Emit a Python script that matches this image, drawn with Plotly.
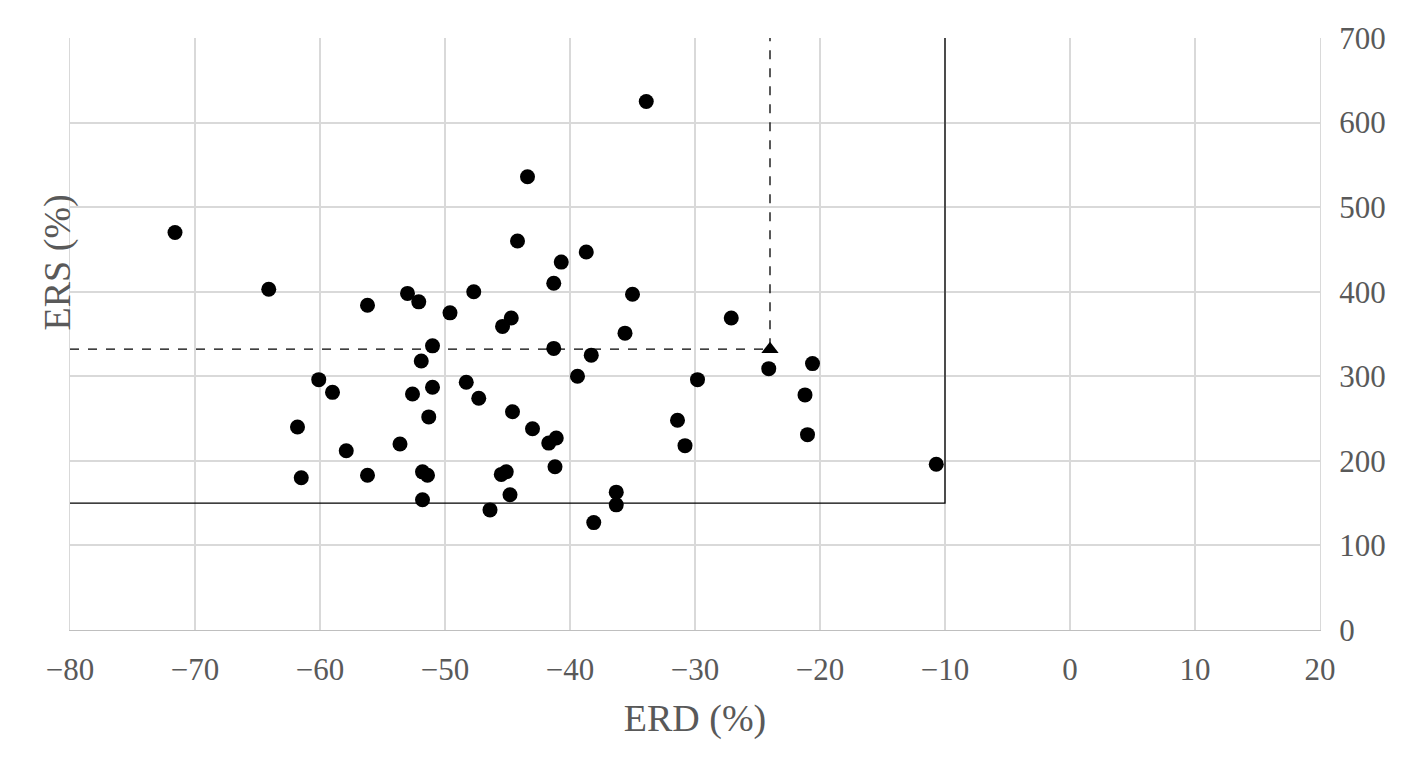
import plotly.graph_objects as go

erd = [-71.6,-64.1,-56.2,-53.0,-52.1,-47.7,-49.6,-45.4,-44.7,-43.4,-44.2,-33.9,-40.7,-41.3,-38.7,-35.0,-35.6,-41.3,-38.3,-39.4,-27.1,-24.1,-20.6,-21.2,-21.0,-10.7,-29.8,-31.4,-30.8,-51.0,-51.9,-60.1,-59.0,-52.6,-51.0,-48.3,-47.3,-51.3,-44.6,-43.0,-41.7,-41.1,-41.2,-61.8,-57.9,-53.6,-61.5,-56.2,-51.8,-51.4,-45.5,-45.1,-51.8,-44.8,-46.4,-36.3,-36.3,-38.1]
ers = [470,403,384,398,388,400,375,359,369,536,460,625,435,410,447,397,351,333,325,300,369,309,315,278,231,196,296,248,218,336,318,296,281,279,287,293,274,252,258,238,221,227,193,240,212,220,180,183,187,183,184,187,154,160,142,163,148,127]
mean_erd = [-24.0]
mean_ers = [332]
thr_x = -10
thr_y = 150

fig = go.Figure()
fig.add_trace(go.Scatter(x=[-80, thr_x, thr_x], y=[thr_y, thr_y, 700], mode="lines",
                         line=dict(color="black", width=1.3), hoverinfo="skip"))
fig.add_trace(go.Scatter(x=[-80, mean_erd[0], mean_erd[0]], y=[mean_ers[0], mean_ers[0], 700], mode="lines",
                         line=dict(color="black", width=1.3, dash="dash"), hoverinfo="skip"))
fig.add_trace(go.Scatter(x=erd, y=ers, mode="markers", marker=dict(color="black", size=15)))
fig.add_trace(go.Scatter(x=mean_erd, y=mean_ers, mode="markers",
                         marker=dict(color="black", size=15, symbol="triangle-up")))

tf = dict(size=31, family="Liberation Serif", color="#595959")
fig.update_layout(
    width=1424, height=764, showlegend=False,
    paper_bgcolor="white", plot_bgcolor="white",
    margin=dict(l=62, r=112, t=30, b=142),
    font=tf,
    xaxis=dict(range=[-80, 20], showgrid=True, gridcolor="#d9d9d9", gridwidth=2, automargin=False,
               zeroline=False, showline=True, linecolor="#bfbfbf",
               ticks="outside", ticklen=12, tickcolor="rgba(0,0,0,0)",
               title=dict(text="ERD (%)", font=dict(size=38, family="Liberation Serif", color="#595959"), standoff=18),
               tickfont=tf),
    yaxis=dict(range=[0, 700], dtick=100, side="right", showgrid=True, gridcolor="#d9d9d9", gridwidth=2,
               automargin=False, ticks="outside", ticklen=12, tickcolor="rgba(0,0,0,0)",
               zeroline=False, showline=True, linecolor="#d9d9d9", mirror=True, tickfont=tf),
    annotations=[dict(text="ERS (%)", x=0, xref="paper", xshift=-36, y=0.62, yref="paper",
                      textangle=-90, showarrow=False, font=dict(size=38, family="Liberation Serif", color="#595959"))],
)
fig.update_xaxes(tickvals=list(range(-80, 30, 10)),
                 ticktext=["−80","−70","−60","−50","−40","−30","−20","−10","0","10","20"])
fig.write_html("out.html")
